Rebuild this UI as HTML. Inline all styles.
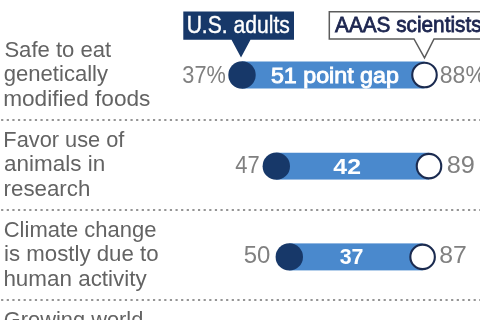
<!DOCTYPE html>
<html><head><meta charset="utf-8">
<style>
html,body{margin:0;padding:0;background:#fff;width:480px;height:320px;overflow:hidden}
svg{display:block;filter:blur(0.35px)}
text{font-family:"Liberation Sans",sans-serif}
</style></head><body>
<svg width="480" height="320" viewBox="0 0 480 320">
<rect width="480" height="320" fill="#fff"/>

<line x1="1.1" y1="120" x2="480" y2="120" stroke="#959595" stroke-width="2" stroke-dasharray="2.2 3.425"/>
<line x1="1.1" y1="210" x2="480" y2="210" stroke="#959595" stroke-width="2" stroke-dasharray="2.2 3.425"/>
<line x1="1.1" y1="300" x2="480" y2="300" stroke="#959595" stroke-width="2" stroke-dasharray="2.2 3.425"/>

<rect x="242" y="61.5" width="182.5" height="27" fill="#4a89cd"/>
<circle cx="242" cy="75" r="13.7" fill="#173869"/>
<circle cx="424.5" cy="75" r="12.25" fill="#fff" stroke="#1b2b50" stroke-width="2.1"/>

<rect x="276.3" y="152.75" width="152.7" height="26.8" fill="#4a89cd"/>
<circle cx="276.3" cy="166.15" r="13.7" fill="#173869"/>
<circle cx="429" cy="166.15" r="12.25" fill="#fff" stroke="#1b2b50" stroke-width="2.1"/>

<rect x="289.3" y="243.4" width="133.3" height="27" fill="#4a89cd"/>
<circle cx="289.3" cy="256.9" r="13.7" fill="#173869"/>
<circle cx="422.6" cy="256.9" r="12.25" fill="#fff" stroke="#1b2b50" stroke-width="2.1"/>

<path d="M183.3 11.5 H294 V39.7 H250.5 L241 57.6 L231.5 39.7 H183.3 Z" fill="#173869"/>
<path d="M329.3 11.7 H490 V39 H434 L424.5 57.8 L414 39 H329.3 Z" fill="#fff" stroke="#5c5c5c" stroke-width="1.5"/>

<text id="t1" x="4.40" y="56.5" font-size="22" fill="#636363" textLength="106.80" lengthAdjust="spacingAndGlyphs">Safe to eat</text>
<text id="t2" x="3.79" y="81" font-size="22" fill="#636363" textLength="104.26" lengthAdjust="spacingAndGlyphs">genetically</text>
<text id="t3" x="3.16" y="105.5" font-size="22" fill="#636363" textLength="147.24" lengthAdjust="spacingAndGlyphs">modified foods</text>
<text id="t4" x="3.36" y="146.5" font-size="22" fill="#636363" textLength="121.01" lengthAdjust="spacingAndGlyphs">Favor use of</text>
<text id="t5" x="4.11" y="171" font-size="22" fill="#636363" textLength="101.07" lengthAdjust="spacingAndGlyphs">animals in</text>
<text id="t6" x="3.63" y="195.8" font-size="22" fill="#636363" textLength="86.65" lengthAdjust="spacingAndGlyphs">research</text>
<text id="t7" x="3.74" y="236.5" font-size="22" fill="#636363" textLength="152.75" lengthAdjust="spacingAndGlyphs">Climate change</text>
<text id="t8" x="4.06" y="261" font-size="22" fill="#636363" textLength="154.56" lengthAdjust="spacingAndGlyphs">is mostly due to</text>
<text id="t9" x="3.42" y="285.5" font-size="22" fill="#636363" textLength="143.29" lengthAdjust="spacingAndGlyphs">human activity</text>
<text id="t10" x="3.82" y="326.5" font-size="22" fill="#636363" textLength="139.46" lengthAdjust="spacingAndGlyphs">Growing world</text>
<text id="n1" x="182.35" y="82.7" font-size="23" fill="#808080" textLength="43.47" lengthAdjust="spacingAndGlyphs">37%</text>
<text id="n2" x="439.84" y="82.7" font-size="23" fill="#808080" textLength="46.05" lengthAdjust="spacingAndGlyphs">88%</text>
<text id="n3" x="235.34" y="173.3" font-size="23" fill="#808080" textLength="24.41" lengthAdjust="spacingAndGlyphs">47</text>
<text id="n4" x="446.66" y="173" font-size="23" fill="#808080" textLength="28.11" lengthAdjust="spacingAndGlyphs">89</text>
<text id="n5" x="243.76" y="262.5" font-size="23" fill="#808080" textLength="26.65" lengthAdjust="spacingAndGlyphs">50</text>
<text id="n6" x="439.26" y="263.3" font-size="23" fill="#808080" textLength="27.59" lengthAdjust="spacingAndGlyphs">87</text>
<text id="b1" x="270.90" y="82.6" font-size="21.5" fill="#fff" textLength="128.02" lengthAdjust="spacingAndGlyphs" stroke="#fff" stroke-width="0.9">51 point gap</text>
<text id="b2" x="333.36" y="173.6" font-size="22.5" font-weight="bold" fill="#fff" textLength="27.60" lengthAdjust="spacingAndGlyphs">42</text>
<text id="b3" x="339.65" y="264.3" font-size="22.5" font-weight="bold" fill="#fff" textLength="23.75" lengthAdjust="spacingAndGlyphs">37</text>
<text id="l1" x="186.63" y="32.6" font-size="23.5" fill="#fff" textLength="103.24" lengthAdjust="spacingAndGlyphs" stroke="#fff" stroke-width="0.4">U.S. adults</text>
<text id="l2" x="335.05" y="32.4" font-size="22" fill="#1d2650" textLength="146.53" lengthAdjust="spacingAndGlyphs" stroke="#1d2650" stroke-width="0.8">AAAS scientists</text>
</svg>
</body></html>
